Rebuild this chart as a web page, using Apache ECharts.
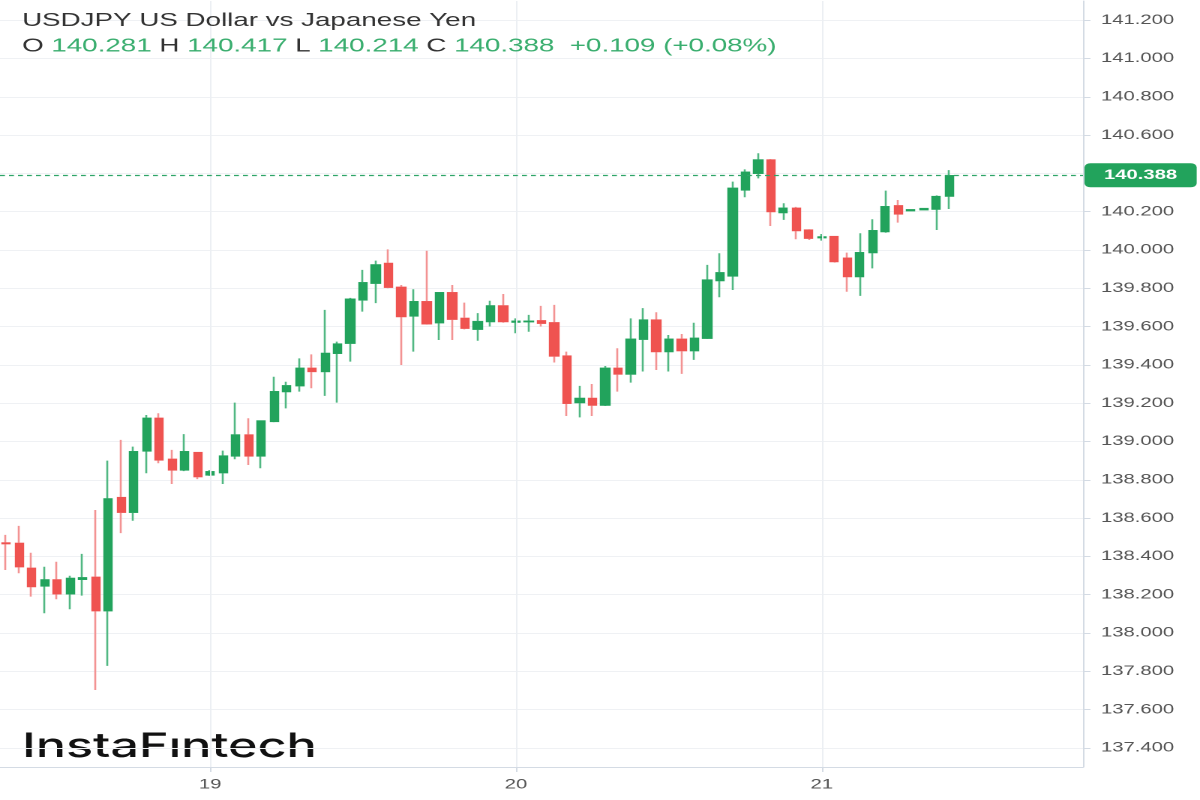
<!DOCTYPE html>
<html>
<head>
<meta charset="utf-8">
<script src="https://cdn.jsdelivr.net/npm/echarts@6/dist/echarts.min.js"></script>
<style>
  html, body { margin: 0; padding: 0; background: #fff; }
  #wrap { width: 1200px; height: 800px; overflow: hidden; position: relative; background: #fff; }
  #c { width: 800px; height: 800px; transform: scale(1.5, 1); transform-origin: 0 0; }
</style>
</head>
<body>
<div id="wrap"><div id="c"></div></div>
<script>
// Hourly USDJPY candles, 18th 08:00 .. 21st 10:00
const opens = [138.470,138.468,138.338,138.245,138.277,138.204,138.280,138.291,138.116,138.707,138.630,138.950,139.121,138.907,138.851,138.942,
  138.825,138.837,138.924,139.034,138.924,139.104,139.260,139.291,139.382,139.365,139.460,139.513,139.739,139.826,139.930,139.805,139.655,139.730,139.620,139.777,139.643,139.586,139.626,139.708,
  139.623,139.625,139.630,139.620,139.446,139.203,139.225,139.190,139.382,139.352,139.534,139.634,139.469,139.534,139.474,139.539,139.840,139.864,140.313,140.400,140.470,140.195,140.218,140.104,
  140.064,140.070,139.957,139.861,139.986,140.096,140.231,140.205,140.210,140.213,140.281];
const closes = [138.466,138.346,138.242,138.277,138.204,138.285,138.288,138.116,138.700,138.630,138.947,139.121,138.903,138.851,138.947,138.816,
  138.842,138.924,139.034,138.924,139.107,139.260,139.291,139.382,139.365,139.460,139.509,139.743,139.829,139.922,139.805,139.652,139.730,139.614,139.777,139.638,139.591,139.626,139.708,139.626,
  139.628,139.628,139.617,139.446,139.199,139.225,139.190,139.382,139.352,139.534,139.634,139.469,139.534,139.474,139.539,139.843,139.881,140.322,140.406,140.470,140.200,140.218,140.101,140.061,
  140.068,139.939,139.861,139.986,140.101,140.226,140.188,140.210,140.216,140.279,140.388];
const lows = [138.329,138.312,138.190,138.103,138.176,138.124,138.195,137.702,137.828,138.521,138.586,138.834,138.886,138.778,138.845,138.803,
  138.820,138.778,138.907,138.877,138.860,139.100,139.173,139.260,139.278,139.238,139.203,139.417,139.678,139.722,139.800,139.399,139.469,139.610,139.530,139.530,139.585,139.526,139.600,139.620,
  139.565,139.573,139.600,139.412,139.133,139.126,139.133,139.185,139.260,139.307,139.365,139.373,139.365,139.353,139.426,139.535,139.753,139.791,140.275,140.374,140.125,140.157,140.056,140.052,
  140.049,139.934,139.782,139.760,139.904,140.090,140.143,140.203,140.208,140.104,140.214];
const highs = [138.512,138.559,138.419,138.346,138.372,138.299,138.413,138.642,138.900,139.008,138.973,139.138,139.147,138.956,139.038,138.945,
  138.850,138.952,139.203,139.121,139.110,139.338,139.312,139.434,139.455,139.687,139.521,139.750,139.896,139.944,140.003,139.817,139.795,139.996,139.780,139.817,139.725,139.670,139.735,139.770,
  139.643,139.661,139.708,139.713,139.469,139.290,139.300,139.394,139.487,139.643,139.696,139.675,139.556,139.561,139.620,139.922,139.983,140.357,140.421,140.505,140.475,140.244,140.225,140.108,
  140.083,140.072,139.986,140.087,140.160,140.310,140.261,140.212,140.219,140.285,140.417];
const priceTicks = [137.4,137.6,137.8,138.0,138.2,138.4,138.6,138.8,139.0,139.2,139.4,139.6,139.8,140.0,140.2,140.4,140.6,140.8,141.0,141.2];
const startDay = 18, startHour = 8, slotCount = 85; // 75 candles + empty space to the right

const times = [];
for (let i = 0; i < slotCount; i++) {
  const t = startHour + i;
  const d = startDay + Math.floor(t / 24), h = t % 24;
  times.push(d + ' ' + String(h).padStart(2, '0') + ':00');
}
const isDayStart = (v) => v.endsWith(' 00:00');
const dayLines = times.filter(isDayStart).map(v => ({ xAxis: v }));

const wickData = opens.map((o, i) => [o, closes[i], lows[i], highs[i]]);
const bodyData = opens.map((o, i) => [o, closes[i], Math.min(o, closes[i]), Math.max(o, closes[i])]);

const n = opens.length;
const lastO = opens[n - 1], lastH = highs[n - 1], lastL = lows[n - 1], lastC = closes[n - 1];
const chg = lastC - closes[n - 2];
const pct = chg / closes[n - 2] * 100;
const sign = chg >= 0 ? '+' : '-';

const UP = '#22a35c', DOWN = '#ef5350', UPW = '#52b883', DOWNW = '#f39393';
const GREENTXT = '#3aae6f';
const FONT = '"Liberation Sans", Arial, sans-serif';

const chart = echarts.init(document.getElementById('c'), null, { renderer: 'canvas', devicePixelRatio: 2 });
chart.setOption({
  animation: false,
  backgroundColor: '#ffffff',
  title: {
    left: 14.7, top: 10, itemGap: 5, padding: 0,
    text: 'USDJPY US Dollar vs Japanese Yen',
    textStyle: { fontFamily: FONT, fontSize: 18.5, fontWeight: 'normal', color: '#333333', lineHeight: 22 },
    subtext: '{k|O} {v|' + lastO.toFixed(3) + '} {k|H} {v|' + lastH.toFixed(3) + '} {k|L} {v|' + lastL.toFixed(3) +
      '} {k|C} {v|' + lastC.toFixed(3) + '}  {v|' + sign + Math.abs(chg).toFixed(3) + ' (' + sign + Math.abs(pct).toFixed(2) + '%)}',
    subtextStyle: {
      fontFamily: FONT, fontSize: 18.5, color: '#333333',
      rich: {
        k: { fontFamily: FONT, fontSize: 18.5, color: '#333333' },
        v: { fontFamily: FONT, fontSize: 18.5, color: GREENTXT }
      }
    }
  },
  graphic: [{
    type: 'text', left: 14.7, top: 730, silent: true,
    style: { text: 'InstaF\u0131ntech', font: '500 33.5px Inter, "Noto Sans", sans-serif', fill: '#111111' }
  }],
  grid: { left: -1, right: 78, top: 1, bottom: 33, containLabel: false },
  xAxis: {
    type: 'category', data: times, boundaryGap: true,
    axisLine: { show: true, lineStyle: { color: '#d4dbe4', width: 1 } },
    axisTick: { show: true, alignWithLabel: true, length: 5, interval: (i, v) => isDayStart(v), lineStyle: { color: '#d4dbe4' } },
    axisLabel: { interval: (i, v) => isDayStart(v), formatter: v => v.split(' ')[0], color: '#555555', fontFamily: FONT, fontSize: 13.5, margin: 11 },
    splitLine: { show: false }
  },
  yAxis: {
    type: 'value', position: 'right', min: 137.3, max: 141.3, scale: true,
    axisLine: { show: true, lineStyle: { color: '#d4dbe4', width: 1 } },
    axisTick: { show: true, length: 5, customValues: priceTicks, lineStyle: { color: '#d4dbe4' } },
    axisLabel: { customValues: priceTicks, formatter: v => v.toFixed(3), color: '#555555', fontFamily: FONT, fontSize: 13.5, margin: 12 },
    splitLine: { show: true, lineStyle: { color: '#eff1f4', width: 1 } }
  },
  series: [
    {
      type: 'line', data: [], z: 1, silent: true,
      markLine: {
        silent: true, symbol: ['none', 'none'], label: { show: false },
        lineStyle: { color: '#eceff3', width: 1, type: 'solid' },
        data: dayLines
      }
    },
    {
      name: 'wicks', type: 'candlestick', data: wickData, barWidth: 5.7, z: 2, silent: true,
      itemStyle: { color: UPW, color0: DOWNW, borderColor: UPW, borderColor0: DOWNW, borderWidth: 1.3 }
    },
    {
      name: 'bodies', type: 'candlestick', data: bodyData, barWidth: 5.7, z: 3, silent: true, clip: false,
      itemStyle: { color: UP, color0: DOWN, borderColor: UP, borderColor0: DOWN, borderWidth: 1 },
      markLine: {
        silent: true, symbol: ['none', 'none'],
        lineStyle: { color: '#2fa568', width: 1.2, type: [3.3, 2.7] },
        label: {
          show: true, position: 'end', distance: 1,
          formatter: () => lastC.toFixed(3),
          backgroundColor: '#22a35c', color: '#ffffff', fontFamily: FONT, fontSize: 13.5, fontWeight: 'bold',
          padding: [5, 13, 5, 13], borderRadius: 4
        },
        data: [{ yAxis: lastC }]
      }
    }
  ]
});
</script>
</body>
</html>
